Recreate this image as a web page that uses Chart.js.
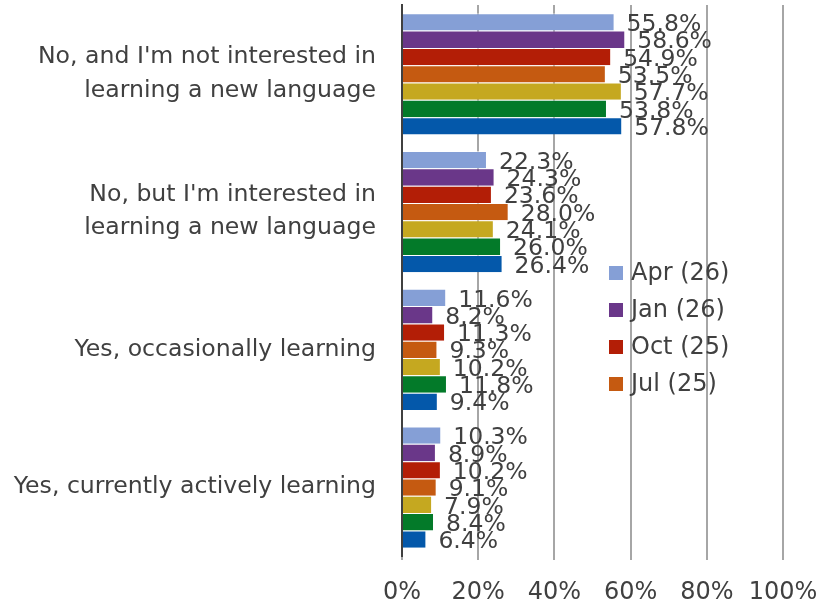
<!DOCTYPE html>
<html>
<head>
<meta charset="utf-8">
<script src="https://cdn.jsdelivr.net/npm/chart.js@4/dist/chart.umd.min.js"></script>
<style>
    html, body { margin: 0; padding: 0; background: #fff; }
    #wrap { width: 816px; height: 610px; }
</style>
</head>
<body>
<div id="wrap"><canvas id="surveyChart"></canvas></div>
<script>
const categories = [
    ["No, and I'm not interested in", "learning a new language"],
    ["No, but I'm interested in", "learning a new language"],
    "Yes, occasionally learning",
    "Yes, currently actively learning"
];
const seriesNames = ["Apr (26)", "Jan (26)", "Oct (25)", "Jul (25)", "Apr (25)", "Jan (25)", "Oct (24)"];
const seriesColors = ["#859fd6", "#6a3789", "#b31e06", "#c55a11", "#c5a820", "#037a29", "#0458aa"];
const apr26 = [55.8, 22.3, 11.6, 10.3];
const jan26 = [58.6, 24.3, 8.2, 8.9];
const oct25 = [54.9, 23.6, 11.3, 10.2];
const jul25 = [53.5, 28.0, 9.3, 9.1];
const apr25 = [57.7, 24.1, 10.2, 7.9];
const jan25 = [53.8, 26.0, 11.8, 8.4];
const oct24 = [57.8, 26.4, 9.4, 6.4];
const seriesValues = [apr26, jan26, oct25, jul25, apr25, jan25, oct24];
const legendCount = 4; // only the first four fit in the legend box
const xTicks = [0, 20, 40, 60, 80, 100];

const textColor = '#404040';
const fontFamily = "'DejaVu Sans', Verdana, sans-serif";

// value labels to the right of each bar
const barLabels = {
    id: 'barLabels',
    afterDatasetsDraw(chart) {
        const ctx = chart.ctx;
        ctx.save();
        ctx.font = '23.5px ' + fontFamily;
        ctx.fillStyle = textColor;
        ctx.textAlign = 'left';
        ctx.textBaseline = 'middle';
        chart.data.datasets.forEach((ds, i) => {
            chart.getDatasetMeta(i).data.forEach((bar, j) => {
                ctx.fillText(ds.data[j].toFixed(1) + '%', bar.x + 12, bar.y + 3);
            });
        });
        ctx.restore();
    }
};

// legend sitting inside the plot, like the original
const insideLegend = {
    id: 'insideLegend',
    afterDraw(chart) {
        const ctx = chart.ctx;
        ctx.save();
        ctx.font = '24px ' + fontFamily;
        ctx.textBaseline = 'middle';
        chart.data.datasets.slice(0, legendCount).forEach((ds, i) => {
            const y = 273 + i * 37;
            ctx.fillStyle = ds.backgroundColor;
            ctx.fillRect(609, y - 7, 14, 14);
            ctx.fillStyle = textColor;
            ctx.fillText(ds.label, 631, y + 1);
        });
        ctx.restore();
    }
};

new Chart(document.getElementById('surveyChart'), {
    type: 'bar',
    data: {
        labels: categories,
        datasets: seriesNames.map((name, i) => ({
            label: name,
            data: seriesValues[i],
            backgroundColor: seriesColors[i],
            borderColor: 'rgba(255,255,255,0.6)',
            borderWidth: { top: 1, bottom: 0, left: 0, right: 1 },
            borderSkipped: false,
            barPercentage: 1,
            categoryPercentage: 0.88
        }))
    },
    options: {
        indexAxis: 'y',
        responsive: true,
        maintainAspectRatio: false,
        animation: false,
        layout: { padding: { top: 5, right: 33, left: 0, bottom: 0 } },
        plugins: {
            legend: { display: false },
            tooltip: { enabled: false }
        },
        scales: {
            x: {
                min: 0,
                max: 100,
                afterBuildTicks: (scale) => {
                    scale.ticks = xTicks.map(v => ({ value: v }));
                },
                afterFit: (scale) => {
                    scale.height = 54;
                    scale.paddingLeft = 0;
                    scale.paddingRight = 0;
                },
                grid: {
                    color: '#a6a6a6',
                    lineWidth: 2,
                    drawTicks: true,
                    tickLength: 4
                },
                border: { display: false },
                ticks: {
                    color: textColor,
                    font: { family: fontFamily, size: 24 },
                    padding: 18,
                    maxRotation: 0,
                    callback: (v) => v + '%'
                }
            },
            y: {
                afterFit: (scale) => {
                    scale.width = 402;
                    scale.paddingTop = 0;
                    scale.paddingBottom = 0;
                },
                grid: { display: false },
                border: { color: '#404040', width: 2 },
                ticks: {
                    color: textColor,
                    font: { family: fontFamily, size: 23.6, lineHeight: 1.4 },
                    padding: 18
                }
            }
        }
    },
    plugins: [barLabels, insideLegend]
});
</script>
</body>
</html>
